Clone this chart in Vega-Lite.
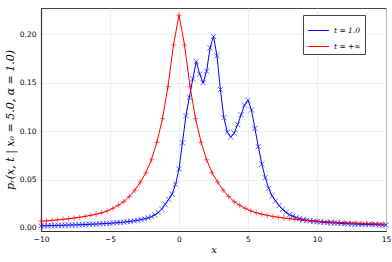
{
  "$schema": "https://vega.github.io/schema/vega-lite/v6.json",
  "width": 345,
  "height": 223,
  "autosize": {"type": "none"},
  "padding": {"left": 41, "top": 8, "right": 6, "bottom": 31},
  "background": "white",
  "config": {
    "view": {"stroke": "#444", "strokeWidth": 1},
    "axis": {
      "labelFont": "DejaVu Sans", "labelFontSize": 7.5, "labelColor": "#000", "labelFlush": false,
      "gridColor": "#e8e8e8", "gridWidth": 0.7,
      "domainColor": "#333", "domainWidth": 1.2,
      "tickColor": "#333", "tickSize": 3, "ticks": false,
      "titleFont": "DejaVu Serif", "titleFontStyle": "italic", "titleFontWeight": "normal", "titleFontSize": 10, "titleColor": "#000"
    }
  },
  "data": {"values": [
    {"x":-10,"y":0.0022,"s":"t = 1.0"},{"x":-9.75,"y":0.0023,"s":"t = 1.0"},{"x":-9.5,"y":0.0024,"s":"t = 1.0"},{"x":-9.25,"y":0.0025,"s":"t = 1.0"},{"x":-9,"y":0.0026,"s":"t = 1.0"},{"x":-8.75,"y":0.0027,"s":"t = 1.0"},{"x":-8.5,"y":0.0028,"s":"t = 1.0"},{"x":-8.25,"y":0.0029,"s":"t = 1.0"},{"x":-8,"y":0.003,"s":"t = 1.0"},{"x":-7.75,"y":0.0031,"s":"t = 1.0"},{"x":-7.5,"y":0.0032,"s":"t = 1.0"},{"x":-7.25,"y":0.0034,"s":"t = 1.0"},{"x":-7,"y":0.0035,"s":"t = 1.0"},{"x":-6.75,"y":0.0036,"s":"t = 1.0"},{"x":-6.5,"y":0.0038,"s":"t = 1.0"},{"x":-6.25,"y":0.004,"s":"t = 1.0"},{"x":-6,"y":0.0041,"s":"t = 1.0"},{"x":-5.75,"y":0.0043,"s":"t = 1.0"},{"x":-5.5,"y":0.0045,"s":"t = 1.0"},{"x":-5.25,"y":0.0047,"s":"t = 1.0"},{"x":-5,"y":0.0049,"s":"t = 1.0"},{"x":-4.75,"y":0.0052,"s":"t = 1.0"},{"x":-4.5,"y":0.0055,"s":"t = 1.0"},{"x":-4.25,"y":0.0058,"s":"t = 1.0"},{"x":-4,"y":0.0061,"s":"t = 1.0"},{"x":-3.75,"y":0.0065,"s":"t = 1.0"},{"x":-3.5,"y":0.0069,"s":"t = 1.0"},{"x":-3.25,"y":0.0074,"s":"t = 1.0"},{"x":-3,"y":0.008,"s":"t = 1.0"},{"x":-2.75,"y":0.0087,"s":"t = 1.0"},{"x":-2.5,"y":0.0095,"s":"t = 1.0"},{"x":-2.25,"y":0.0105,"s":"t = 1.0"},{"x":-2,"y":0.0118,"s":"t = 1.0"},{"x":-1.75,"y":0.0135,"s":"t = 1.0"},{"x":-1.5,"y":0.016,"s":"t = 1.0"},{"x":-1.25,"y":0.0195,"s":"t = 1.0"},{"x":-1,"y":0.0245,"s":"t = 1.0"},{"x":-0.75,"y":0.0295,"s":"t = 1.0"},{"x":-0.5,"y":0.035,"s":"t = 1.0"},{"x":-0.25,"y":0.045,"s":"t = 1.0"},{"x":0,"y":0.061,"s":"t = 1.0"},{"x":0.25,"y":0.088,"s":"t = 1.0"},{"x":0.5,"y":0.116,"s":"t = 1.0"},{"x":0.75,"y":0.135,"s":"t = 1.0"},{"x":1,"y":0.154,"s":"t = 1.0"},{"x":1.25,"y":0.172,"s":"t = 1.0"},{"x":1.5,"y":0.159,"s":"t = 1.0"},{"x":1.75,"y":0.15,"s":"t = 1.0"},{"x":2,"y":0.162,"s":"t = 1.0"},{"x":2.25,"y":0.186,"s":"t = 1.0"},{"x":2.5,"y":0.198,"s":"t = 1.0"},{"x":2.75,"y":0.178,"s":"t = 1.0"},{"x":3,"y":0.143,"s":"t = 1.0"},{"x":3.25,"y":0.114,"s":"t = 1.0"},{"x":3.5,"y":0.099,"s":"t = 1.0"},{"x":3.75,"y":0.094,"s":"t = 1.0"},{"x":4,"y":0.098,"s":"t = 1.0"},{"x":4.25,"y":0.107,"s":"t = 1.0"},{"x":4.5,"y":0.117,"s":"t = 1.0"},{"x":4.75,"y":0.127,"s":"t = 1.0"},{"x":5,"y":0.132,"s":"t = 1.0"},{"x":5.25,"y":0.122,"s":"t = 1.0"},{"x":5.5,"y":0.103,"s":"t = 1.0"},{"x":5.75,"y":0.084,"s":"t = 1.0"},{"x":6,"y":0.066,"s":"t = 1.0"},{"x":6.25,"y":0.052,"s":"t = 1.0"},{"x":6.5,"y":0.041,"s":"t = 1.0"},{"x":6.75,"y":0.033,"s":"t = 1.0"},{"x":7,"y":0.028,"s":"t = 1.0"},{"x":7.25,"y":0.0232,"s":"t = 1.0"},{"x":7.5,"y":0.0193,"s":"t = 1.0"},{"x":7.75,"y":0.0162,"s":"t = 1.0"},{"x":8,"y":0.0138,"s":"t = 1.0"},{"x":8.25,"y":0.0122,"s":"t = 1.0"},{"x":8.5,"y":0.0108,"s":"t = 1.0"},{"x":8.75,"y":0.0097,"s":"t = 1.0"},{"x":9,"y":0.0088,"s":"t = 1.0"},{"x":9.25,"y":0.008,"s":"t = 1.0"},{"x":9.5,"y":0.0074,"s":"t = 1.0"},{"x":9.75,"y":0.007,"s":"t = 1.0"},{"x":10,"y":0.0066,"s":"t = 1.0"},{"x":10.25,"y":0.0062,"s":"t = 1.0"},{"x":10.5,"y":0.0059,"s":"t = 1.0"},{"x":10.75,"y":0.0056,"s":"t = 1.0"},{"x":11,"y":0.0054,"s":"t = 1.0"},{"x":11.25,"y":0.0052,"s":"t = 1.0"},{"x":11.5,"y":0.005,"s":"t = 1.0"},{"x":11.75,"y":0.0048,"s":"t = 1.0"},{"x":12,"y":0.0046,"s":"t = 1.0"},{"x":12.25,"y":0.0044,"s":"t = 1.0"},{"x":12.5,"y":0.0042,"s":"t = 1.0"},{"x":12.75,"y":0.0041,"s":"t = 1.0"},{"x":13,"y":0.0039,"s":"t = 1.0"},{"x":13.25,"y":0.0038,"s":"t = 1.0"},{"x":13.5,"y":0.0037,"s":"t = 1.0"},{"x":13.75,"y":0.0036,"s":"t = 1.0"},{"x":14,"y":0.0035,"s":"t = 1.0"},{"x":14.25,"y":0.0034,"s":"t = 1.0"},{"x":14.5,"y":0.0033,"s":"t = 1.0"},{"x":14.75,"y":0.0032,"s":"t = 1.0"},{"x":15,"y":0.0031,"s":"t = 1.0"},
    {"x":-10,"y":0.007,"s":"t = +∞"},{"x":-9.6,"y":0.0074,"s":"t = +∞"},{"x":-9.2,"y":0.0079,"s":"t = +∞"},{"x":-8.8,"y":0.0084,"s":"t = +∞"},{"x":-8.4,"y":0.009,"s":"t = +∞"},{"x":-8,"y":0.0096,"s":"t = +∞"},{"x":-7.6,"y":0.0103,"s":"t = +∞"},{"x":-7.2,"y":0.0111,"s":"t = +∞"},{"x":-6.8,"y":0.012,"s":"t = +∞"},{"x":-6.4,"y":0.0131,"s":"t = +∞"},{"x":-6,"y":0.0143,"s":"t = +∞"},{"x":-5.6,"y":0.0157,"s":"t = +∞"},{"x":-5.2,"y":0.0177,"s":"t = +∞"},{"x":-4.8,"y":0.0203,"s":"t = +∞"},{"x":-4.4,"y":0.0235,"s":"t = +∞"},{"x":-4,"y":0.0272,"s":"t = +∞"},{"x":-3.6,"y":0.0325,"s":"t = +∞"},{"x":-3.2,"y":0.039,"s":"t = +∞"},{"x":-2.8,"y":0.0475,"s":"t = +∞"},{"x":-2.4,"y":0.057,"s":"t = +∞"},{"x":-2,"y":0.0705,"s":"t = +∞"},{"x":-1.6,"y":0.0885,"s":"t = +∞"},{"x":-1.2,"y":0.113,"s":"t = +∞"},{"x":-0.8,"y":0.146,"s":"t = +∞"},{"x":-0.4,"y":0.189,"s":"t = +∞"},{"x":0,"y":0.22,"s":"t = +∞"},{"x":0.4,"y":0.189,"s":"t = +∞"},{"x":0.8,"y":0.146,"s":"t = +∞"},{"x":1.2,"y":0.113,"s":"t = +∞"},{"x":1.6,"y":0.0885,"s":"t = +∞"},{"x":2,"y":0.0705,"s":"t = +∞"},{"x":2.4,"y":0.057,"s":"t = +∞"},{"x":2.8,"y":0.0475,"s":"t = +∞"},{"x":3.2,"y":0.039,"s":"t = +∞"},{"x":3.6,"y":0.0325,"s":"t = +∞"},{"x":4,"y":0.0272,"s":"t = +∞"},{"x":4.4,"y":0.0235,"s":"t = +∞"},{"x":4.8,"y":0.0203,"s":"t = +∞"},{"x":5.2,"y":0.0177,"s":"t = +∞"},{"x":5.6,"y":0.0157,"s":"t = +∞"},{"x":6,"y":0.0143,"s":"t = +∞"},{"x":6.4,"y":0.0131,"s":"t = +∞"},{"x":6.8,"y":0.012,"s":"t = +∞"},{"x":7.2,"y":0.0111,"s":"t = +∞"},{"x":7.6,"y":0.0103,"s":"t = +∞"},{"x":8,"y":0.0096,"s":"t = +∞"},{"x":8.4,"y":0.009,"s":"t = +∞"},{"x":8.8,"y":0.0084,"s":"t = +∞"},{"x":9.2,"y":0.0079,"s":"t = +∞"},{"x":9.6,"y":0.0074,"s":"t = +∞"},{"x":10,"y":0.007,"s":"t = +∞"},{"x":10.4,"y":0.0066,"s":"t = +∞"},{"x":10.8,"y":0.0063,"s":"t = +∞"},{"x":11.2,"y":0.006,"s":"t = +∞"},{"x":11.6,"y":0.0057,"s":"t = +∞"},{"x":12,"y":0.0054,"s":"t = +∞"},{"x":12.4,"y":0.0052,"s":"t = +∞"},{"x":12.8,"y":0.0049,"s":"t = +∞"},{"x":13.2,"y":0.0047,"s":"t = +∞"},{"x":13.6,"y":0.0045,"s":"t = +∞"},{"x":14,"y":0.0043,"s":"t = +∞"},{"x":14.4,"y":0.0042,"s":"t = +∞"},{"x":14.8,"y":0.004,"s":"t = +∞"}
  ]},
  "encoding": {
    "x": {"field": "x", "type": "quantitative", "scale": {"domain": [-10, 15], "nice": false, "zero": false},
      "axis": {"values": [-10, -5, 0, 5, 10, 15], "labelExpr": "replace(datum.label, '-', '−')", "title": "x", "titlePadding": 2, "labelPadding": 4, "grid": true}},
    "y": {"field": "y", "type": "quantitative", "scale": {"domain": [-0.0031, 0.2273], "nice": false, "zero": false},
      "axis": {"values": [0, 0.05, 0.1, 0.15, 0.2], "format": ".2f", "title": "pᵣ(x, t | x₀ = 5.0, α = 1.0)", "titleFontSize": 11, "titlePadding": 4, "labelPadding": 5, "grid": true}}
  },
  "resolve": {"scale": {"color": "independent", "shape": "independent"}, "legend": {"color": "independent"}},
  "layer": [
    {
      "mark": {"type": "line", "strokeWidth": 1},
      "encoding": {
        "color": {"field": "s", "type": "nominal", "scale": {"domain": ["t = 1.0", "t = +∞"], "range": ["#0000ff", "#ff0000"]},
          "legend": {"title": null, "orient": "none", "legendX": 262, "legendY": 7, "symbolType": "stroke", "symbolSize": 450, "symbolStrokeWidth": 1,
            "labelFont": "DejaVu Serif", "labelFontStyle": "italic", "labelFontSize": 7.5, "labelColor": "#000",
            "strokeColor": "#444", "fillColor": "white", "padding": 4, "rowPadding": 1, "labelOffset": 4}}
      }
    },
    {
      "mark": {"type": "point", "filled": false, "strokeWidth": 1, "opacity": 0.6, "size": 28},
      "encoding": {
        "shape": {"field": "s", "type": "nominal", "scale": {"domain": ["t = 1.0", "t = +∞"], "range": ["M-1,-1L1,1M-1,1L1,-1", "M-1,0L1,0M0,-1L0,1"]}, "legend": null},
        "color": {"field": "s", "type": "nominal", "scale": {"domain": ["t = 1.0", "t = +∞"], "range": ["#0000ff", "#ff0000"]}, "legend": null}
      }
    }
  ]
}
